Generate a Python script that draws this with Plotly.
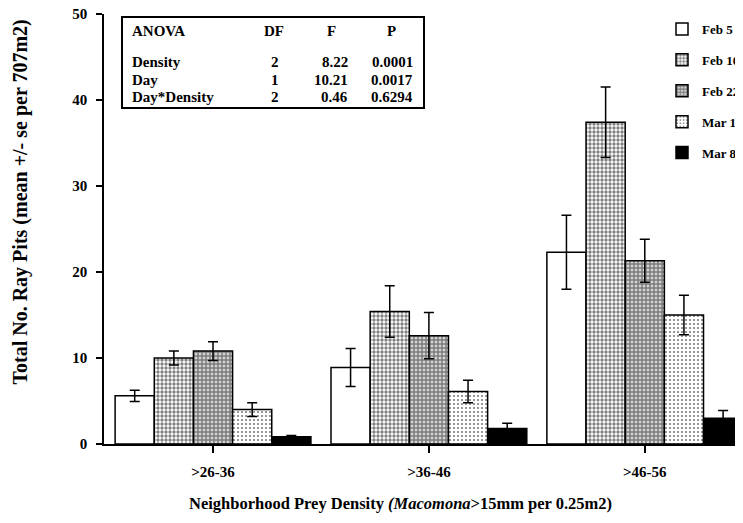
import plotly.graph_objects as go

# ---------------- data ----------------
categories = [">26-36", ">36-46", ">46-56"]
series_names = ["Feb 5", "Feb 10", "Feb 22", "Mar 1", "Mar 8"]

feb5 = [5.6, 8.9, 22.3]
feb5_se = [0.65, 2.2, 4.3]
feb10 = [10.0, 15.4, 37.4]
feb10_se = [0.8, 3.0, 4.1]
feb22 = [10.8, 12.6, 21.3]
feb22_se = [1.1, 2.7, 2.5]
mar1 = [4.0, 6.1, 15.0]
mar1_se = [0.8, 1.3, 2.3]
mar8 = [0.85, 1.8, 3.0]
mar8_se = [0.15, 0.6, 0.9]

anova_terms = ["Density", "Day", "Day*Density"]
anova_df = ["2", "1", "2"]
anova_f = ["8.22", "10.21", "0.46"]
anova_p = ["0.0001", "0.0017", "0.6294"]

y_ticks = [0, 10, 20, 30, 40, 50]

# ---------------- layout geometry ----------------
# Positions below are page pixels; the page body adds an 8px margin, so the
# figure itself is 8px smaller and everything is measured from that offset.
FONT = "Liberation Serif"
OFF = 8
PAGE_W, PAGE_H = 743, 523
AX_L, AX_R, AX_T, AX_B = 104, 743, 14, 444   # plot area in page pixels
W, H = PAGE_W - OFF, PAGE_H - OFF
PW = AX_R - AX_L
PH = AX_B - AX_T


def px(x):
    return (x - AX_L) / PW


def py(y):
    return (AX_B - y) / PH


styles = [
    dict(color="white", pattern=None),
    dict(color="white", pattern=dict(shape=".", fgcolor="black", bgcolor="white",
                                     size=4, solidity=0.55, fillmode="overlay")),
    dict(color="white", pattern=dict(shape=".", fgcolor="black", bgcolor="white",
                                     size=4, solidity=0.78, fillmode="overlay")),
    dict(color="white", pattern=dict(shape=".", fgcolor="black", bgcolor="white",
                                     size=4, solidity=0.22, fillmode="overlay")),
    dict(color="black", pattern=None),
]

values = [feb5, feb10, feb22, mar1, mar8]
errors = [feb5_se, feb10_se, feb22_se, mar1_se, mar8_se]

fig = go.Figure()
for name, vals, errs, st in zip(series_names, values, errors, styles):
    marker = dict(color=st["color"], line=dict(color="black", width=1.5))
    if st["pattern"] is not None:
        marker["pattern"] = st["pattern"]
    fig.add_trace(go.Bar(
        x=categories, y=vals, name=name, legendgroup=name,
        marker=marker,
        error_y=dict(type="data", array=errs, color="black", thickness=1.5, width=5),
    ))

fig.update_layout(
    width=W, height=H,
    margin=dict(l=AX_L - OFF, r=PAGE_W - AX_R, t=AX_T - OFF, b=PAGE_H - AX_B,
                autoexpand=False),
    paper_bgcolor="white", plot_bgcolor="white",
    barmode="group", bargap=0.093, bargroupgap=0,
    font=dict(family=FONT, color="black", size=15, weight="bold"),
    legend=dict(x=px(662), y=py(14), xanchor="left", yanchor="top",
                font=dict(family=FONT, size=13, weight="bold"),
                tracegroupgap=11, bgcolor="rgba(0,0,0,0)"),
    showlegend=True,
)

fig.update_xaxes(
    type="category", range=[-0.505, 2.455], automargin=False,
    showline=True, linecolor="black", linewidth=1.5,
    ticks="outside", ticklen=7, tickwidth=1.5, tickcolor="black",
    ticklabelstandoff=6, ticklabeloverflow="allow",
    showgrid=False, zeroline=False,
    tickfont=dict(family=FONT, size=15, weight="bold"),
)
fig.update_yaxes(
    range=[0, 50], tickvals=y_ticks, automargin=False,
    showline=True, linecolor="black", linewidth=1.5,
    ticks="outside", ticklen=6, tickwidth=1.5, tickcolor="black",
    ticklabelstandoff=6, ticklabeloverflow="allow",
    showgrid=False, zeroline=False,
    tickfont=dict(family=FONT, size=15, weight="bold"),
)

# axis titles
fig.add_annotation(text="Neighborhood Prey Density <i>(Macomona</i>>15mm per 0.25m2)",
                   x=px(400), y=py(503), xref="paper", yref="paper",
                   xanchor="center", yanchor="middle", showarrow=False,
                   font=dict(family=FONT, size=16.5, weight="bold", color="black"))
fig.add_annotation(text="Total No. Ray Pits (mean +/- se per 707m2)",
                   x=px(19.5), y=py(202), xref="paper", yref="paper", textangle=-90,
                   xanchor="center", yanchor="middle", showarrow=False,
                   font=dict(family=FONT, size=20, weight="bold", color="black"))

# ANOVA box
fig.add_shape(type="rect", xref="paper", yref="paper",
              x0=px(122), x1=px(424), y0=py(17), y1=py(108),
              line=dict(color="black", width=2), fillcolor="white", layer="above")

tfont = dict(family=FONT, size=15, color="black", weight="bold")


def ann(text, x, y, xanchor):
    fig.add_annotation(text=text, x=px(x), y=py(y), xref="paper", yref="paper",
                       xanchor=xanchor, yanchor="middle", showarrow=False, font=tfont)


ann("ANOVA", 130, 31, "left")
ann("DF", 274, 31, "center")
ann("F", 331, 31, "center")
ann("P", 391, 31, "center")
row_y = [62, 80, 97]
for term, d, f, p, yy in zip(anova_terms, anova_df, anova_f, anova_p, row_y):
    ann(term, 130, yy, "left")
    ann(d, 275, yy, "center")
    ann(f, 350, yy, "right")
    ann(p, 415, yy, "right")

fig.write_html("out.html")
